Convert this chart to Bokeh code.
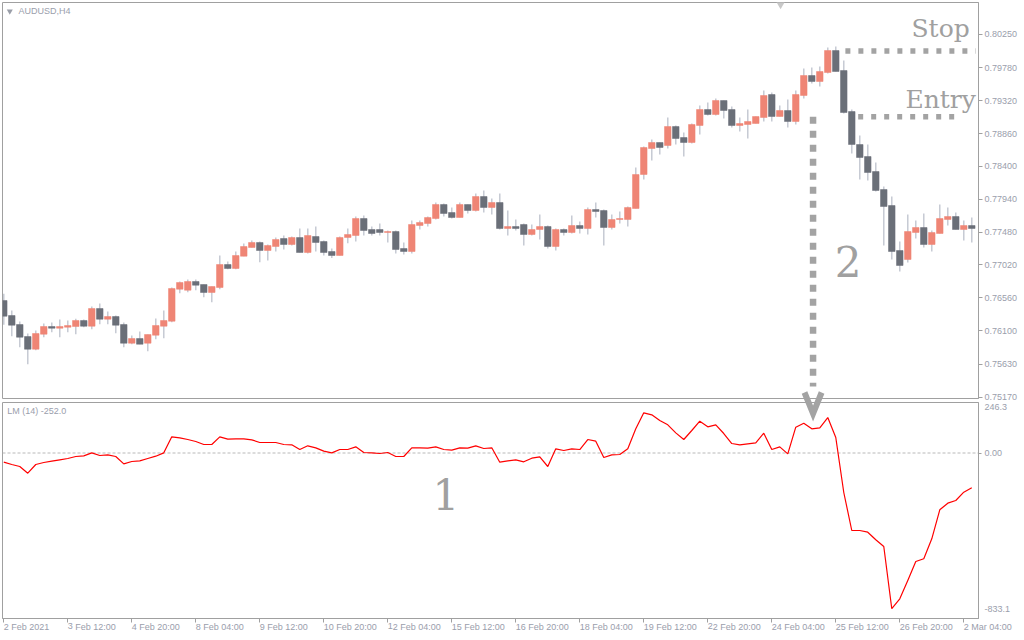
from bokeh.plotting import figure
from bokeh.models import Range1d, FixedTicker, Span, ColumnDataSource
from bokeh.layouts import column
from bokeh.embed import file_html
from bokeh.resources import INLINE
from bokeh.core.properties import value

# ---------------- data (AUDUSD H4, one value per bar) ----------------
opens = [0.76522, 0.76312, 0.76186, 0.76018, 0.75840, 0.76050, 0.76158, 0.76134, 0.76148, 0.76158,
         0.76242, 0.76162, 0.76410, 0.76260, 0.76298, 0.76186, 0.75924, 0.75990, 0.75924, 0.76036,
         0.76162, 0.76232, 0.76680, 0.76666, 0.76788, 0.76746, 0.76634, 0.76704, 0.77026, 0.76970,
         0.77142, 0.77264, 0.77334, 0.77222, 0.77278, 0.77390, 0.77306, 0.77404, 0.77194, 0.77418,
         0.77348, 0.77208, 0.77152, 0.77404, 0.77432, 0.77670, 0.77516, 0.77516, 0.77474, 0.77488,
         0.77250, 0.77208, 0.77572, 0.77600, 0.77670, 0.77866, 0.77754, 0.77684, 0.77866, 0.77782,
         0.77978, 0.77824, 0.77894, 0.77530, 0.77558, 0.77586, 0.77446, 0.77516, 0.77558, 0.77278,
         0.77516, 0.77474, 0.77572, 0.77530, 0.77796, 0.77782, 0.77544, 0.77656, 0.77656, 0.77810,
         0.78286, 0.78650, 0.78734, 0.78692, 0.78958, 0.78804, 0.78734, 0.78972, 0.79196, 0.79126,
         0.79322, 0.79196, 0.78972, 0.78986, 0.79000, 0.79084, 0.79406, 0.79098, 0.79182, 0.79028,
         0.79392, 0.79672, 0.79588, 0.79714, 0.80022, 0.79742, 0.79168, 0.78706, 0.78538, 0.78328,
         0.78076, 0.77852, 0.77222, 0.77096, 0.77474, 0.77544, 0.77306, 0.77460, 0.77656, 0.77698,
         0.77516, 0.77572]
highs = [0.76616, 0.76382, 0.76228, 0.76060, 0.76102, 0.76200, 0.76214, 0.76256, 0.76242, 0.76266,
         0.76256, 0.76438, 0.76480, 0.76368, 0.76312, 0.76214, 0.76032, 0.76088, 0.76046, 0.76270,
         0.76382, 0.76704, 0.76788, 0.76816, 0.76816, 0.76746, 0.76718, 0.77152, 0.77068, 0.77208,
         0.77320, 0.77362, 0.77348, 0.77306, 0.77404, 0.77432, 0.77418, 0.77530, 0.77530, 0.77558,
         0.77362, 0.77250, 0.77418, 0.77530, 0.77698, 0.77712, 0.77558, 0.77600, 0.77502, 0.77502,
         0.77334, 0.77642, 0.77642, 0.77698, 0.77894, 0.77880, 0.77824, 0.77894, 0.77866, 0.78020,
         0.78062, 0.77950, 0.78020, 0.77782, 0.77656, 0.77600, 0.77586, 0.77726, 0.77572, 0.77530,
         0.77530, 0.77712, 0.77628, 0.77824, 0.77894, 0.77796, 0.77726, 0.77768, 0.77838, 0.78384,
         0.78678, 0.78776, 0.78734, 0.79084, 0.78972, 0.78874, 0.79000, 0.79252, 0.79294, 0.79350,
         0.79322, 0.79238, 0.79084, 0.79196, 0.79098, 0.79462, 0.79434, 0.79252, 0.79336, 0.79462,
         0.79770, 0.79784, 0.79798, 0.80064, 0.80078, 0.79882, 0.79196, 0.78832, 0.78706, 0.78454,
         0.78118, 0.77978, 0.77348, 0.77726, 0.77642, 0.77740, 0.77502, 0.77866, 0.77824, 0.77754,
         0.77642, 0.77684]
lows = [0.76182, 0.76022, 0.75868, 0.75630, 0.75826, 0.76008, 0.76078, 0.76008, 0.76078, 0.76050,
        0.76148, 0.76120, 0.76190, 0.76190, 0.76064, 0.75868, 0.75910, 0.75910, 0.75812, 0.75980,
        0.75994, 0.76218, 0.76624, 0.76638, 0.76666, 0.76568, 0.76498, 0.76680, 0.76960, 0.76960,
        0.77142, 0.77264, 0.77058, 0.77082, 0.77208, 0.77236, 0.77292, 0.77194, 0.77180, 0.77208,
        0.77152, 0.77116, 0.77152, 0.77324, 0.77348, 0.77432, 0.77432, 0.77432, 0.77334, 0.77180,
        0.77166, 0.77180, 0.77516, 0.77558, 0.77656, 0.77698, 0.77670, 0.77684, 0.77740, 0.77768,
        0.77754, 0.77726, 0.77516, 0.77432, 0.77502, 0.77292, 0.77432, 0.77376, 0.77250, 0.77222,
        0.77432, 0.77460, 0.77460, 0.77446, 0.77684, 0.77292, 0.77516, 0.77600, 0.77558, 0.77810,
        0.78216, 0.78482, 0.78566, 0.78650, 0.78706, 0.78538, 0.78720, 0.78846, 0.79112, 0.79112,
        0.79070, 0.78944, 0.78888, 0.78790, 0.79000, 0.79028, 0.79028, 0.79098, 0.78944, 0.78986,
        0.79350, 0.79560, 0.79518, 0.79700, 0.79728, 0.79140, 0.78580, 0.78216, 0.78202, 0.78048,
        0.77292, 0.77096, 0.76928, 0.77054, 0.77390, 0.77264, 0.77208, 0.77460, 0.77572, 0.77516,
        0.77362, 0.77334]
closes = [0.76302, 0.76176, 0.76008, 0.75840, 0.76060, 0.76158, 0.76134, 0.76158, 0.76172, 0.76242,
          0.76162, 0.76410, 0.76260, 0.76298, 0.76176, 0.75924, 0.75990, 0.75910, 0.76046, 0.76172,
          0.76242, 0.76690, 0.76774, 0.76788, 0.76736, 0.76634, 0.76718, 0.77026, 0.76970, 0.77152,
          0.77278, 0.77334, 0.77222, 0.77292, 0.77376, 0.77306, 0.77404, 0.77194, 0.77432, 0.77334,
          0.77194, 0.77152, 0.77404, 0.77446, 0.77670, 0.77502, 0.77460, 0.77474, 0.77488, 0.77236,
          0.77208, 0.77586, 0.77614, 0.77684, 0.77866, 0.77740, 0.77684, 0.77866, 0.77782, 0.77978,
          0.77824, 0.77894, 0.77530, 0.77558, 0.77530, 0.77446, 0.77516, 0.77558, 0.77278, 0.77516,
          0.77474, 0.77572, 0.77530, 0.77796, 0.77768, 0.77544, 0.77656, 0.77670, 0.77824, 0.78286,
          0.78664, 0.78734, 0.78664, 0.78958, 0.78790, 0.78734, 0.78986, 0.79196, 0.79126, 0.79322,
          0.79182, 0.78972, 0.79000, 0.79028, 0.79098, 0.79392, 0.79098, 0.79182, 0.79028, 0.79406,
          0.79672, 0.79588, 0.79728, 0.80022, 0.79728, 0.79154, 0.78706, 0.78524, 0.78314, 0.78062,
          0.77838, 0.77208, 0.77012, 0.77488, 0.77544, 0.77306, 0.77474, 0.77670, 0.77698, 0.77516,
          0.77572, 0.77530]
lm_values = [-49.1, -61.5, -72.2, -107.9, -61.5, -50.8, -43.7, -36.5, -29.4, -18.7,
             -15.1, 0.9, -13.4, -9.8, -18.7, -57.9, -45.5, -41.9, -29.4, -17.0,
             0.9, 86.5, 81.2, 72.2, 61.5, 45.5, 45.5, 86.5, 74.0, 75.8,
             75.8, 70.5, 56.2, 56.2, 56.2, 45.5, 43.7, 18.7, 38.4, 27.7,
             9.8, 0.9, 18.7, 18.7, 33.0, 2.7, 0.9, -2.7, 2.7, -18.7,
             -18.7, 27.7, 27.7, 25.8, 33.0, 18.7, 15.1, 27.7, 25.8, 38.4,
             24.1, 27.7, -49.1, -41.9, -36.5, -47.2, -27.7, -20.5, -72.2, 22.3,
             13.4, 22.3, 18.7, 72.2, 63.3, -24.1, -9.8, -8.0, 22.3, 129.3,
             214.9, 204.2, 173.9, 150.7, 107.9, 72.2, 120.4, 170.3, 140.0, 150.7,
             104.3, 50.8, 43.7, 49.1, 54.4, 106.1, 18.7, 33.0, -4.4, 138.2,
             159.6, 129.3, 134.7, 189.9, 82.9, -211.3, -414.6, -414.6, -423.7, -464.4,
             -500.2, -833.1, -780.0, -682.1, -580.4, -566.0, -459.1, -303.9, -268.5, -254.1,
             -209.7, -186.2]

price_ticks = [0.80250, 0.79780, 0.79320, 0.78860, 0.78400, 0.77940,
               0.77480, 0.77020, 0.76560, 0.76100, 0.75630, 0.75170]
price_tick_labels = ["0.80250", "0.79780", "0.79320", "0.78860", "0.78400", "0.77940",
                     "0.77480", "0.77020", "0.76560", "0.76100", "0.75630", "0.75170"]
lm_ticks = [246.3, 0.0, -833.1]
lm_tick_labels = ["246.3", "0.00", "-833.1"]
date_tick_bars = [0, 8, 16, 24, 32, 40, 48, 56, 64, 72, 80, 88, 96, 104, 112, 120]
date_tick_labels = ["2 Feb 2021", "3 Feb 12:00", "4 Feb 20:00", "8 Feb 04:00", "9 Feb 12:00",
                    "10 Feb 20:00", "12 Feb 04:00", "15 Feb 12:00", "16 Feb 20:00", "18 Feb 04:00",
                    "19 Feb 12:00", "22 Feb 20:00", "24 Feb 04:00", "25 Feb 12:00", "26 Feb 20:00",
                    "2 Mar 04:00"]
symbol_label = "AUDUSD,H4"
indicator_label = "LM (14) -252.0"
stop_level = 0.80015
entry_level = 0.79095
signal_bar = 101.16

# ---------------- styling ----------------
UP = "#ef8575"
DOWN = "#6a6f78"
WICK = "#c6cad3"
FRAME = "#a0a0a0"
TXT = "#9a9eac"
MARK = "#a3a3a3"
BIG = "#a0a0a0"

bars = list(range(len(opens)))
src = ColumnDataSource(dict(
    x=bars, high=highs, low=lows,
    top=[max(o, c) for o, c in zip(opens, closes)],
    bottom=[min(o, c) for o, c in zip(opens, closes)],
    color=[UP if c >= o else DOWN for o, c in zip(opens, closes)],
))

x_range = Range1d(-0.16, len(bars) - 0.16)


def base_style(p):
    p.background_fill_color = "white"
    p.border_fill_color = "white"
    p.outline_line_color = FRAME
    p.outline_line_width = 1
    p.xgrid.visible = False
    p.ygrid.visible = False


def axis_style(ax):
    ax.axis_line_color = FRAME
    ax.major_tick_line_color = FRAME
    ax.major_tick_in = 0
    ax.major_tick_out = 4
    ax.minor_tick_line_color = None
    ax.major_label_text_font = "Liberation Sans"
    ax.major_label_text_font_size = "9px"
    ax.major_label_text_color = TXT
    ax.major_label_standoff = 2


# ---------------- price pane ----------------
p1 = figure(width=1024, height=402, x_range=x_range, y_range=Range1d(0.75150, 0.80694),
            x_axis_location=None, y_axis_location="right", toolbar_location=None,
            output_backend="svg", min_border_left=2, min_border_right=46,
            min_border_top=2, min_border_bottom=4)
base_style(p1)
ya = p1.yaxis[0]
axis_style(ya)
ya.ticker = FixedTicker(ticks=price_ticks)
ya.major_label_overrides = {t: s for t, s in zip(price_ticks, price_tick_labels)}

p1.segment(x0="x", y0="low", x1="x", y1="high", source=src, line_color=WICK, line_width=1.5)
p1.vbar(x="x", width=0.82, top="top", bottom="bottom", source=src,
        fill_color="color", line_color="color", line_width=0.5)

# stop / entry levels and signal marker
p1.line(x=[105.2, 121.5], y=[stop_level, stop_level], line_color=MARK, line_width=5.5,
        line_dash="5 8")
p1.line(x=[106.8, 119.6], y=[entry_level, entry_level], line_color=MARK, line_width=5.5,
        line_dash="5 8")
p1.line(x=[signal_bar, signal_bar], y=[entry_level, 0.75318], line_color=MARK,
        line_width=6.5, line_dash="7 7")
p1.line(x=[signal_bar - 1.07, signal_bar, signal_bar + 1.07], y=[0.75234, 0.74940, 0.75234],
        line_color=MARK, line_width=6, line_join="miter", level="overlay")

p1.text(x=[113.46], y=[0.80330], text=["Stop"], text_font=value("DejaVu Serif"),
        text_font_size="25px", text_color=BIG, text_align="left", text_baseline="middle")
p1.text(x=[112.7], y=[0.79341], text=["Entry"], text_font=value("DejaVu Serif"),
        text_font_size="25px", text_color=BIG, text_align="left", text_baseline="middle")
p1.text(x=[105.53], y=[0.77065], text=["2"], text_font=value("DejaVu Serif"),
        text_font_size="42px", text_color=BIG, text_align="center", text_baseline="middle")

p1.scatter(x=[0.75], y=[0.80572], marker="inverted_triangle", size=6,
           fill_color="#9a9ea8", line_color=None)
p1.text(x=[1.85], y=[0.80572], text=[symbol_label], text_font=value("Liberation Sans"),
        text_font_size="9px", text_color=TXT, text_align="left", text_baseline="middle")
p1.scatter(x=[97.1], y=[0.80672], marker="inverted_triangle", size=9,
           fill_color="#c8c8c8", line_color=None)

# ---------------- indicator pane ----------------
p2 = figure(width=1024, height=237, x_range=x_range, y_range=Range1d(-885.4, 270.2),
            y_axis_location="right", toolbar_location=None, output_backend="svg",
            min_border_left=2, min_border_right=46, min_border_top=0, min_border_bottom=21)
base_style(p2)
ya2 = p2.yaxis[0]
axis_style(ya2)
ya2.ticker = FixedTicker(ticks=lm_ticks, minor_ticks=[0.0])
ya2.major_label_overrides = {t: s for t, s in zip(lm_ticks, lm_tick_labels)}
ya2.major_tick_line_color = None
ya2.minor_tick_line_color = FRAME
ya2.minor_tick_in = 0
ya2.minor_tick_out = 3

xa = p2.xaxis[0]
axis_style(xa)
xa.ticker = FixedTicker(ticks=date_tick_bars)
xa.major_label_overrides = {t: s for t, s in zip(date_tick_bars, date_tick_labels)}
xa.major_label_orientation = -1e-6
xa.major_label_standoff = 4

p2.add_layout(Span(location=0, dimension="width", line_color="#b9b9b9", line_dash="3 2",
                   line_width=1, level="underlay"))
p2.line(x=bars, y=lm_values, line_color="#ff0000", line_width=1.2)

p2.line(x=[signal_bar - 1.07, signal_bar, signal_bar + 1.07], y=[323.7, 211.3, 323.7],
        line_color=MARK, line_width=6, line_join="miter", level="overlay")
p2.text(x=[55.25], y=[-221.0], text=["1"], text_font=value("DejaVu Serif"),
        text_font_size="42px", text_color=BIG, text_align="center", text_baseline="middle")
p2.text(x=[0.42], y=[227.4], text=[indicator_label], text_font=value("Liberation Sans"),
        text_font_size="9px", text_color=TXT, text_align="left", text_baseline="middle")

layout = column(p1, p2, spacing=0)
open("out.html", "w").write(file_html(layout, INLINE))
